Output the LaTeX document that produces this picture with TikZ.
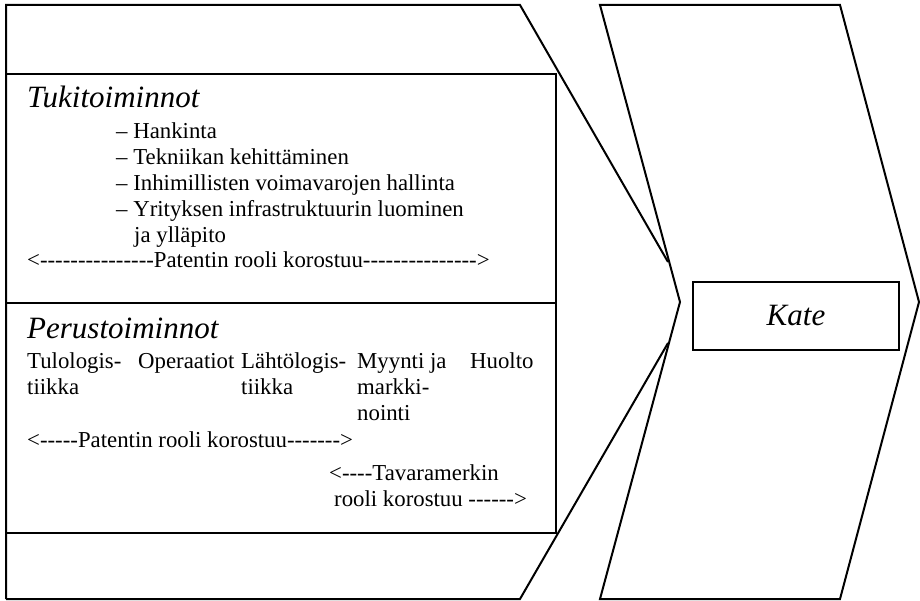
\documentclass[tikz,border=0pt]{standalone}
\usepackage{fontspec}
\setmainfont{Liberation Serif}[Ligatures=TeXOff]
\usetikzlibrary{positioning}
\newcommand{\colstack}[1]{\begin{tabular}[t]{@{}l@{}}#1\end{tabular}}

\begin{document}
\begin{tikzpicture}[x=1pt, y=-1pt,
  outline/.style={line width=2pt, line join=miter},
  panel/.style={line width=2.6pt},
  body/.style={inner sep=0pt, anchor=base west, font=\fontsize{22.8}{26}\selectfont},
  heading/.style={inner sep=0pt, anchor=base west, font=\fontsize{31}{36}\selectfont\itshape}]
  \useasboundingbox (0,0) rectangle (920,601);
  % left chevron
  \draw[outline] (6,599) -- (6,5) -- (520,5) -- (668,262);
  \draw[outline] (6,599) -- (520,599) -- (668,343);
  % right chevron
  \draw[outline] (600,5) -- (840,5) -- (919,302) -- (840,599) -- (600,599) -- (680,302) -- cycle;
  % inner panels
  \draw[panel] (6,74) rectangle (556,303);
  \draw[panel] (6,303) rectangle (556,533);

  % support activities
  \node[heading] (tuki) at (27,108) {Tukitoiminnot};
  \node[body] (hank) at (116,139) {– Hankinta};
  \node[body] (tekn) at (116,165) {– Tekniikan kehittäminen};
  \node[body] (inhi) at (116,191) {– Inhimillisten voimavarojen hallinta};
  \node[body] (yrit) at (116,217) {– Yrityksen infrastruktuurin luominen};
  \node[body] (yllp) at (134,243) {ja ylläpito};
  \node[body] (pat1) at (27,268) {<---------------Patentin rooli korostuu--------------->};

  % primary activities
  \node[heading] (perus) at (27,338) {Perustoiminnot};
  \node[body] (tulo) at (27,368) {\colstack{Tulologis-\\tiikka}};
  \node[body] (oper) at (138,368) {Operaatiot};
  \node[body] (lahto) at (241,368) {\colstack{Lähtölogis-\\tiikka}};
  \node[body] (myyn) at (357,368) {\colstack{Myynti ja\\markki-\\nointi}};
  \node[body] (huol) at (470,368) {Huolto};
  \node[body] (pat2) at (27,447) {<-----Patentin rooli korostuu------->};
  \node[body] (tava) at (329,480) {<----Tavaramerkin};
  \node[body] (tava2) at (334,506) {rooli korostuu ------>};

  % margin
  \node[draw, panel, minimum width=206pt, minimum height=68pt,
        font=\fontsize{31}{36}\selectfont\itshape] (kate) at (796,316) {Kate};
\end{tikzpicture}
\end{document}
